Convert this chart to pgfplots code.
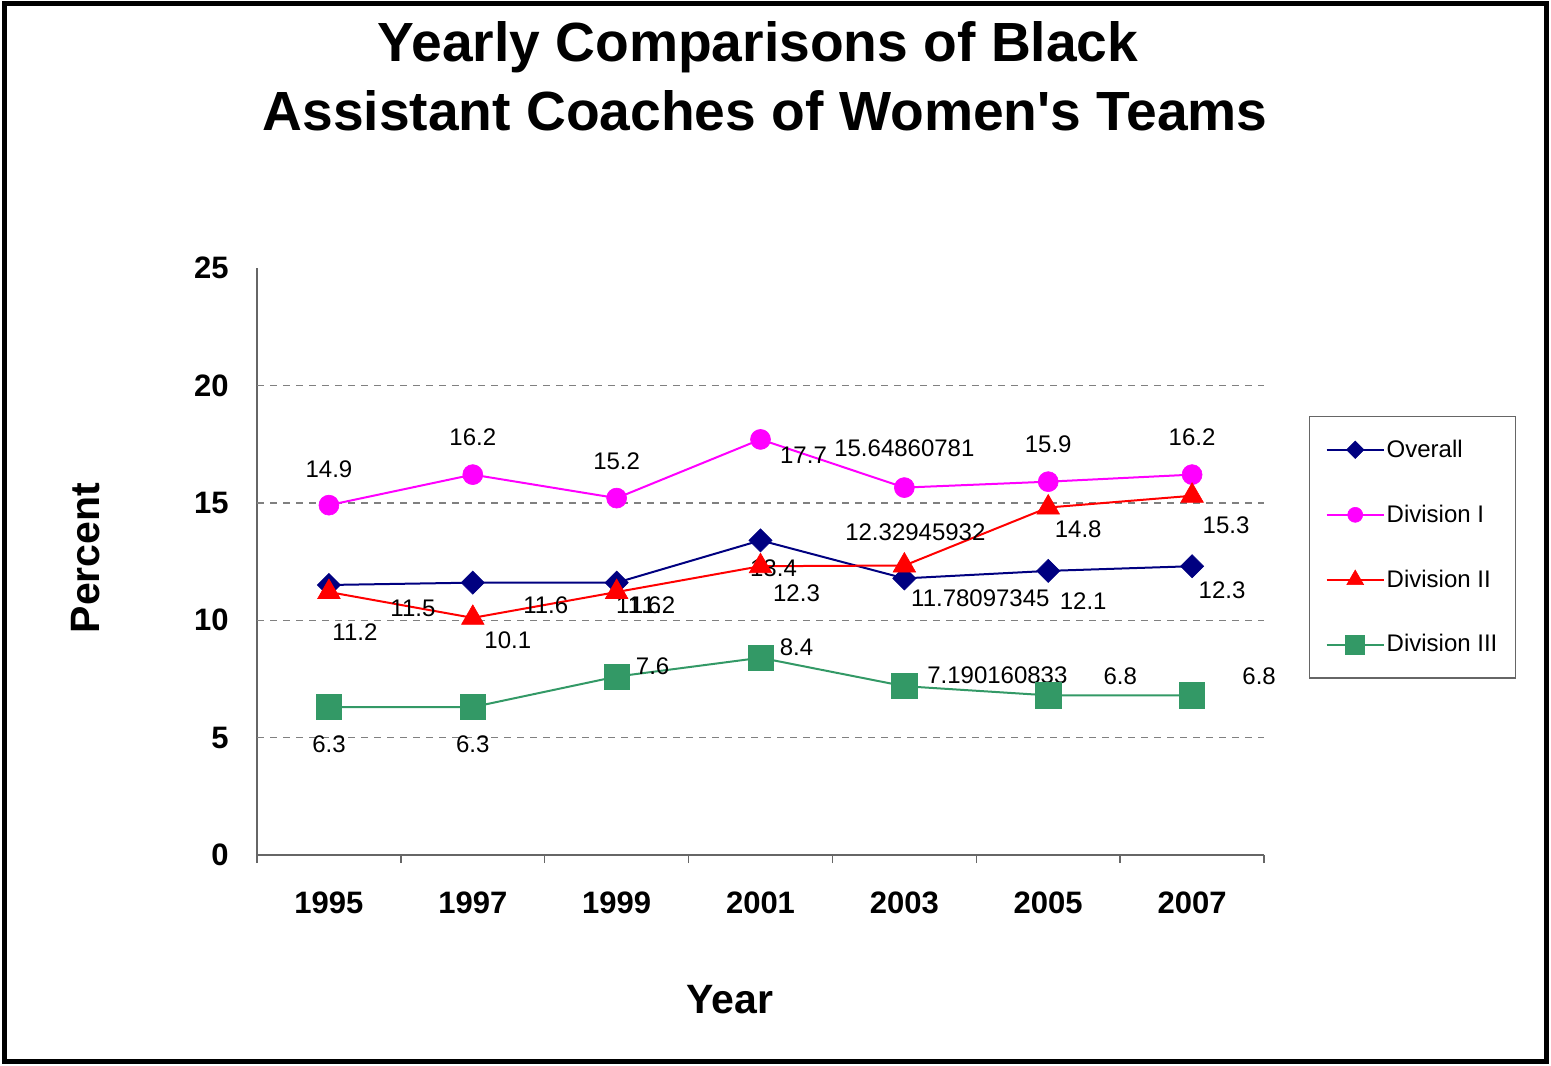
\documentclass[border=0pt]{standalone}
\usepackage{pgfplots}
\pgfplotsset{compat=1.18}
\usepackage{pgfplotstable}
\usepackage{fontspec}
\setmainfont{Liberation Sans}
\definecolor{navyc}{RGB}{0,0,128}
\definecolor{magc}{RGB}{255,0,255}
\definecolor{redc}{RGB}{255,0,0}
\definecolor{greenc}{RGB}{51,153,102}

\pgfplotstableread{
x y label dx dy
0 11.5 11.5 42 -11.5
1 11.6 11.6 36.5 -11.5
2 11.6 11.6 11 -11.5
3 13.4 13.4 6.5 -14
4 11.78097345 11.78097345 38 -10
5 12.1 12.1 17.5 -15
6 12.3 12.3 15 -12
}\overall
\pgfplotstableread{
x y label dx dy
0 14.9 14.9 0 18
1 16.2 16.2 0 18.5
2 15.2 15.2 0 18.5
3 17.7 17.7 21.5 -8
4 15.64860781 15.64860781 0 19.5
5 15.9 15.9 0 18.5
6 16.2 16.2 0 18.5
}\divone
\pgfplotstableread{
x y label dx dy
0 11.2 11.2 13 -20
1 10.1 10.1 17.5 -11
2 11.2 11.2 18 -6.5
3 12.3 12.3 18 -13.5
4 12.32945932 12.32945932 5.5 16.5
5 14.8 14.8 15 -11
6 15.3 15.3 17 -14.5
}\divtwo
\pgfplotstableread{
x y label dx dy
0 6.3 6.3 0 -18.5
1 6.3 6.3 0 -18.5
2 7.6 7.6 18 5
3 8.4 8.4 18 5.5
4 7.190160833 7.190160833 46.5 5.5
5 6.8 6.8 36 9.5
6 6.8 6.8 33.5 9.5
}\divthree

\pgfplotsset{
  lbl/.style={
    nodes near coords,
    point meta=explicit symbolic,
    visualization depends on={\thisrow{dx}\as\dx},
    visualization depends on={\thisrow{dy}\as\dy},
    nodes near coords style={anchor=center, xshift=\dx pt, yshift=\dy pt, text=black, font=\fontsize{12}{14}\selectfont, inner sep=0pt},
  },
}

\begin{document}
\begin{tikzpicture}
\useasboundingbox (0,0) rectangle (775.5pt,-532.5pt);
\draw[line width=2.6pt] (2.2pt,-1.6pt) rectangle (773.3pt,-530.9pt);
\node[font=\bfseries\fontsize{27.6}{32}\selectfont, anchor=base] at (379pt,-31pt) {Yearly Comparisons of Black};
\node[font=\bfseries\fontsize{27.6}{32}\selectfont, anchor=base] at (382.5pt,-65.5pt) {Assistant Coaches of Women\textquotesingle s Teams};
\node[font=\bfseries\fontsize{20.5}{24}\selectfont, rotate=90, anchor=base] at (49.5pt,-279pt) {Percent};
\node[font=\bfseries\fontsize{20.5}{24}\selectfont, anchor=base] at (365pt,-506.5pt) {Year};
\begin{axis}[
  at={(128.5pt,-427.5pt)}, anchor=south west,
  scale only axis, width=503.5pt, height=293.5pt,
  xmin=-0.5, xmax=6.5, ymin=0, ymax=25,
  clip=false,
  axis x line*=bottom, axis y line*=left,
  axis line style={draw=gray!80!black, line width=0.7pt},
  xtick={0,1,2,3,4,5,6},
  xticklabels={1995,1997,1999,2001,2003,2005,2007},
  ytick={0,5,10,15,20,25},
  /pgf/number format/assume math mode=true,
  major tick length=0pt,
  extra x ticks={-0.5,0.5,1.5,2.5,3.5,4.5,5.5,6.5},
  extra x tick labels={},
  extra x tick style={major tick length=4pt, tick align=outside, tick style={draw=gray!80!black, line width=0.7pt}},
  extra y ticks={5,10,15,20},
  extra y tick labels={},
  extra y tick style={grid=major},
  major grid style={gray, dash pattern=on 3.5pt off 3pt, line width=0.7pt},
  xticklabel style={font=\bfseries\fontsize{15.5}{18}\selectfont, anchor=center, yshift=-24pt},
  yticklabel style={font=\bfseries\fontsize{15.5}{18}\selectfont, anchor=east, inner sep=0pt, xshift=-14pt},
  legend style={at={(1.0447,0.748)}, anchor=north west, draw=black!60, line width=0.7pt,
    font=\fontsize{12}{14}\selectfont, inner xsep=8pt, inner ysep=10.5pt, row sep=20.3pt,
    nodes={inner sep=1pt}},
  legend cell align=left,
  legend image code/.code={\draw[mark repeat=2,mark phase=2] plot coordinates {(0pt,0pt)(14.25pt,0pt)(28.5pt,0pt)};},
  legend image post style={every mark/.append style={scale=0.75}},
]
\addplot[navyc, line width=1pt, mark=square*, mark size=4.1pt, mark options={rotate=45, fill=navyc, line width=0.3pt}, lbl]
  table[x=x, y=y, meta=label] {\overall};
\addplot[magc, line width=1pt, mark=*, mark size=5pt, mark options={fill=magc, line width=0.3pt}, lbl]
  table[x=x, y=y, meta=label] {\divone};
\addplot[redc, line width=1pt, mark=triangle*, mark size=6.5pt, mark options={fill=redc, line width=0.3pt}, lbl]
  table[x=x, y=y, meta=label] {\divtwo};
\addplot[greenc, line width=1pt, mark=square*, mark size=6.3pt, mark options={fill=greenc, line width=0.3pt}, lbl]
  table[x=x, y=y, meta=label] {\divthree};
\legend{Overall, Division I, Division II, Division III}
\end{axis}
\end{tikzpicture}
\end{document}
